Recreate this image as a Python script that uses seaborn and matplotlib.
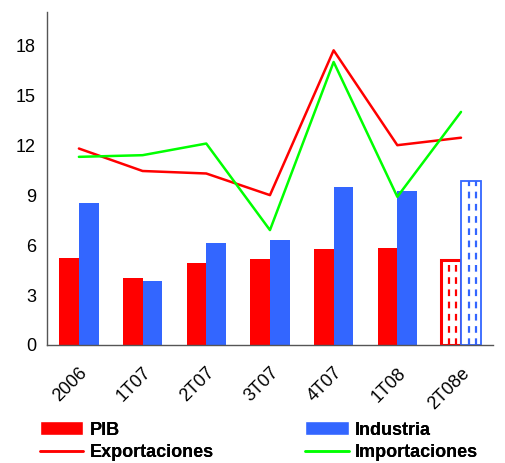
import numpy as np
import pandas as pd
import seaborn as sns
import matplotlib.pyplot as plt
from matplotlib.patches import Patch
from matplotlib.lines import Line2D

# Datos
periodos = ["2006", "1T07", "2T07", "3T07", "4T07", "1T08", "2T08e"]
pib = [5.25, 4.05, 4.95, 5.15, 5.75, 5.85, 5.1]
industria = [8.55, 3.85, 6.15, 6.3, 9.5, 9.25, 9.85]
exportaciones = [11.8, 10.45, 10.3, 9.0, 17.7, 12.0, 12.45]
importaciones = [11.3, 11.4, 12.1, 6.9, 17.0, 8.9, 14.0]

rojo = "#FF0000"
azul = "#3366FF"
verde = "#00FF00"

sns.set_style("white")
plt.rcParams["font.family"] = ["Liberation Sans", "DejaVu Sans"]
plt.rcParams["text.color"] = "black"
plt.rcParams["xtick.color"] = "black"
plt.rcParams["ytick.color"] = "black"

df = pd.DataFrame({
    "periodo": periodos * 2,
    "valor": pib + industria,
    "serie": ["PIB"] * len(periodos) + ["Industria"] * len(periodos),
})

fig = plt.figure(figsize=(5.06, 4.63), dpi=100)
ax = fig.add_axes([0.093, 0.255, 0.881, 0.719])

sns.barplot(data=df, x="periodo", y="valor", hue="serie", order=periodos,
            hue_order=["PIB", "Industria"], palette=[rojo, azul],
            width=0.62, saturation=1, linewidth=0, ax=ax, legend=False)

# ultimo periodo (estimado): barras huecas con trazos
n = len(periodos)
for i, patch in enumerate(ax.patches):
    if i % n == n - 1:
        col = patch.get_facecolor()
        patch.set_facecolor("white")
        patch.set_edgecolor(col)
        patch.set_linewidth(2.2 if i < n else 1.3)
        x0, w, h = patch.get_x(), patch.get_width(), patch.get_height()
        ax.vlines([x0 + w * 0.4, x0 + w * 0.75], 0, h, colors=[col],
                  linestyles=(0, (3, 2.5)), linewidth=1.6)

xs = np.arange(n)
sns.lineplot(x=xs, y=exportaciones, color=rojo, linewidth=1.8, ax=ax)
sns.lineplot(x=xs, y=importaciones, color=verde, linewidth=1.8, ax=ax)

ax.set_xlim(-0.5, n - 0.5)
ax.set_ylim(0, 20)
ax.set_yticks(np.arange(0, 19, 3))
ax.set_xticks(xs)
ax.set_xticklabels(periodos, rotation=45, ha="right", rotation_mode="anchor")
ax.set_xticks(np.arange(-0.5, n, 1), minor=True)
ax.tick_params(axis="x", which="major", length=0, pad=14, labelsize=13)
ax.tick_params(axis="x", which="minor", length=5, color="#555555", direction="out")
ax.tick_params(axis="y", length=5, color="#555555", direction="out", labelsize=13, pad=3)
ax.set_xlabel("")
ax.set_ylabel("")
for s in ["top", "right"]:
    ax.spines[s].set_visible(False)
for s in ["left", "bottom"]:
    ax.spines[s].set_color("#555555")
    ax.spines[s].set_linewidth(1)

props = {"weight": "bold", "size": 13}
izq = [Patch(facecolor=rojo, label="PIB"),
       Line2D([0], [0], color=rojo, linewidth=1.8, label="Exportaciones")]
der = [Patch(facecolor=azul, label="Industria"),
       Line2D([0], [0], color=verde, linewidth=1.8, label="Importaciones")]
for handles, xpos in [(izq, 0.075), (der, 0.6)]:
    leg = fig.legend(handles=handles, loc="lower left", bbox_to_anchor=(xpos, 0.0),
                     frameon=False, prop=props, handlelength=2.4, handleheight=0.8,
                     labelspacing=0.3, handletextpad=0.35, borderaxespad=0,
                     borderpad=0.1)
    fig.add_artist(leg)

fig.savefig("out.png", dpi=100)
